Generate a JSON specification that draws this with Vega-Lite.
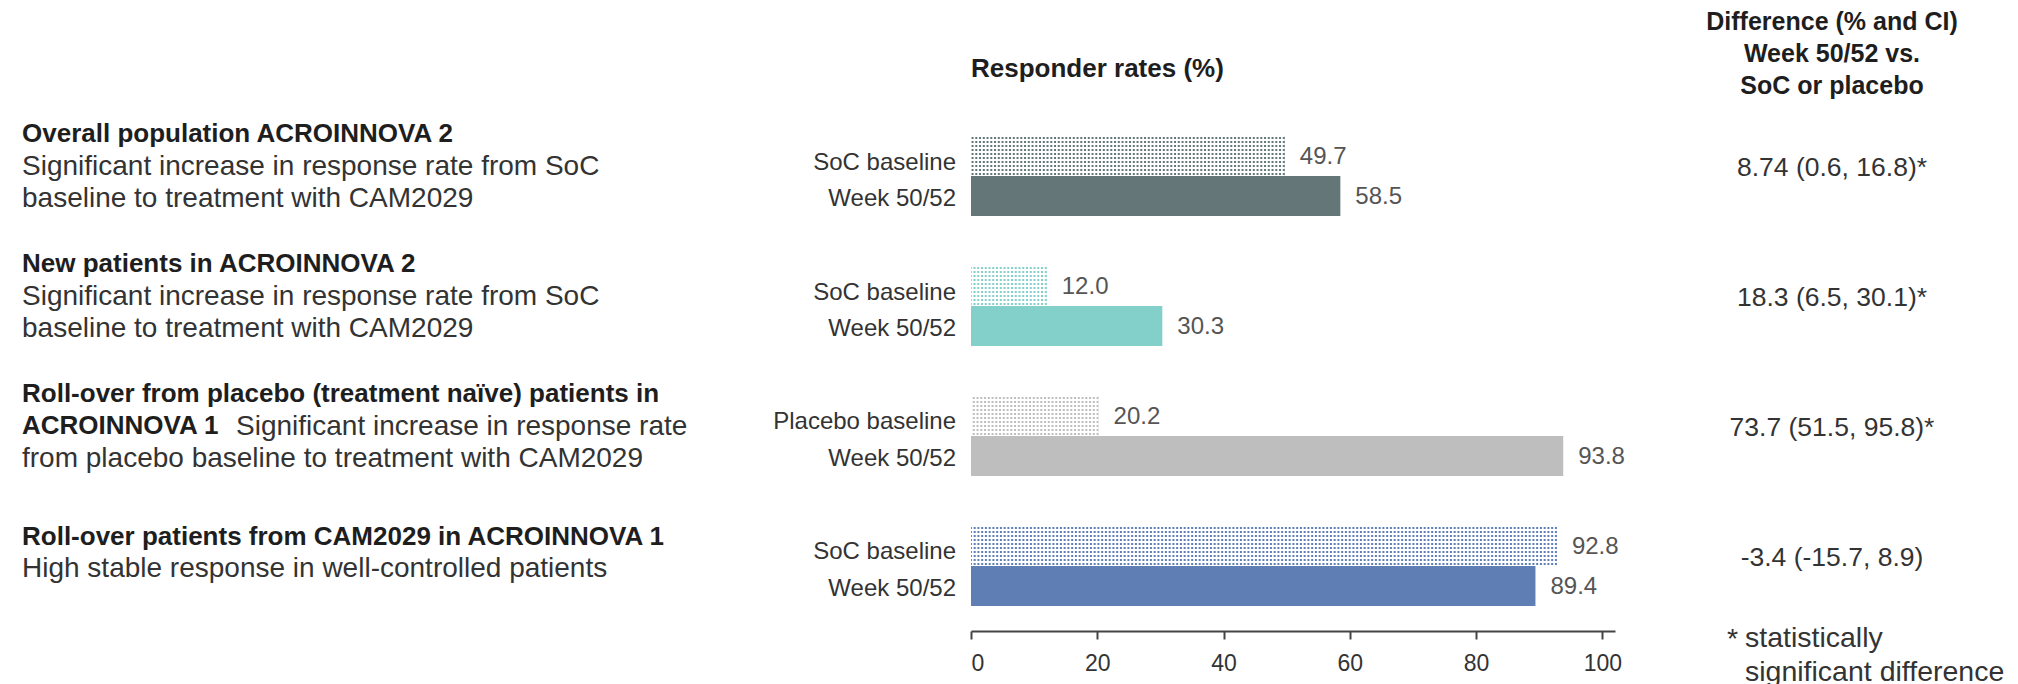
{
  "$schema": "https://vega.github.io/schema/vega-lite/v6.json",
  "background": "white",
  "padding": {"left": 22, "top": 10, "right": 0, "bottom": 0},
  "autosize": {"type": "pad"},
  "bounds": "flush",
  "spacing": 40,
  "config": {
    "font": "Liberation Sans",
    "view": {"stroke": null}
  },
  "datasets": {
    "bars": [
      {"group": "g1", "series": "baseline", "label": "SoC baseline", "value": 49.7},
      {"group": "g1", "series": "week", "label": "Week 50/52", "value": 58.5},
      {"group": "g2", "series": "baseline", "label": "SoC baseline", "value": 12.0},
      {"group": "g2", "series": "week", "label": "Week 50/52", "value": 30.3},
      {"group": "g3", "series": "baseline", "label": "Placebo baseline", "value": 20.2},
      {"group": "g3", "series": "week", "label": "Week 50/52", "value": 93.8},
      {"group": "g4", "series": "baseline", "label": "SoC baseline", "value": 92.8},
      {"group": "g4", "series": "week", "label": "Week 50/52", "value": 89.4}
    ],
    "lines": [
      {"group": "g1", "slot": "a", "style": "bold", "text": "Overall population ACROINNOVA 2"},
      {"group": "g1", "slot": "c", "style": "regular", "text": "Significant increase in response rate from SoC"},
      {"group": "g1", "slot": "e", "style": "regular", "text": "baseline to treatment with CAM2029"},
      {"group": "g2", "slot": "a", "style": "bold", "text": "New patients in ACROINNOVA 2"},
      {"group": "g2", "slot": "c", "style": "regular", "text": "Significant increase in response rate from SoC"},
      {"group": "g2", "slot": "e", "style": "regular", "text": "baseline to treatment with CAM2029"},
      {"group": "g3", "slot": "a", "style": "bold", "text": "Roll-over from placebo (treatment naïve) patients in"},
      {"group": "g3", "slot": "c", "style": "bold", "text": "ACROINNOVA 1"},
      {"group": "g3", "slot": "c", "style": "inline", "text": "Significant increase in response rate"},
      {"group": "g3", "slot": "e", "style": "regular", "text": "from placebo baseline to treatment with CAM2029"},
      {"group": "g4", "slot": "b", "style": "bold", "text": "Roll-over patients from CAM2029 in ACROINNOVA 1"},
      {"group": "g4", "slot": "d", "style": "regular", "text": "High stable response in well-controlled patients"}
    ],
    "groups": [
      {"group": "g1", "diff": "8.74 (0.6, 16.8)*"},
      {"group": "g2", "diff": "18.3 (6.5, 30.1)*"},
      {"group": "g3", "diff": "73.7 (51.5, 95.8)*"},
      {"group": "g4", "diff": "-3.4 (-15.7, 8.9)"}
    ],
    "notes": [
      {"star": "*", "note": "statistically\nsignificant difference"}
    ]
  },
  "hconcat": [
    {
      "width": 909,
      "height": 520,
      "data": {"name": "lines"},
      "layer": [
        {
          "transform": [{"filter": "datum.style === 'bold' && datum.slot === 'a'"}],
          "mark": {"type": "text", "align": "left", "baseline": "middle", "fontSize": 26, "fontWeight": "bold", "color": "#1e1e1e", "dy": -41.7},
          "encoding": {
            "y": {"field": "group", "type": "nominal", "scale": {"domain": ["g1", "g2", "g3", "g4"], "paddingInner": 0.384615, "paddingOuter": 0.192308}, "axis": null},
            "x": {"datum": 0, "type": "quantitative", "scale": {"domain": [0, 1]}, "axis": null},
            "text": {"field": "text", "type": "nominal"}
          }
        },
        {
          "transform": [{"filter": "datum.style === 'bold' && datum.slot === 'b'"}],
          "mark": {"type": "text", "align": "left", "baseline": "middle", "fontSize": 26, "fontWeight": "bold", "color": "#1e1e1e", "dy": -29.2},
          "encoding": {
            "y": {"field": "group", "type": "nominal"},
            "x": {"datum": 0, "type": "quantitative"},
            "text": {"field": "text", "type": "nominal"}
          }
        },
        {
          "transform": [{"filter": "datum.style === 'bold' && datum.slot === 'c'"}],
          "mark": {"type": "text", "align": "left", "baseline": "middle", "fontSize": 26, "fontWeight": "bold", "color": "#1e1e1e", "dy": -9.7},
          "encoding": {
            "y": {"field": "group", "type": "nominal"},
            "x": {"datum": 0, "type": "quantitative"},
            "text": {"field": "text", "type": "nominal"}
          }
        },
        {
          "transform": [{"filter": "datum.style === 'regular' && datum.slot === 'c'"}],
          "mark": {"type": "text", "align": "left", "baseline": "middle", "fontSize": 28, "color": "#333333", "dy": -9},
          "encoding": {
            "y": {"field": "group", "type": "nominal"},
            "x": {"datum": 0, "type": "quantitative"},
            "text": {"field": "text", "type": "nominal"}
          }
        },
        {
          "transform": [{"filter": "datum.style === 'inline'"}],
          "mark": {"type": "text", "align": "left", "baseline": "middle", "fontSize": 28, "color": "#333333", "dy": -9, "dx": 214},
          "encoding": {
            "y": {"field": "group", "type": "nominal"},
            "x": {"datum": 0, "type": "quantitative"},
            "text": {"field": "text", "type": "nominal"}
          }
        },
        {
          "transform": [{"filter": "datum.style === 'regular' && datum.slot === 'd'"}],
          "mark": {"type": "text", "align": "left", "baseline": "middle", "fontSize": 28, "color": "#333333", "dy": 2.5},
          "encoding": {
            "y": {"field": "group", "type": "nominal"},
            "x": {"datum": 0, "type": "quantitative"},
            "text": {"field": "text", "type": "nominal"}
          }
        },
        {
          "transform": [{"filter": "datum.style === 'regular' && datum.slot === 'e'"}],
          "mark": {"type": "text", "align": "left", "baseline": "middle", "fontSize": 28, "color": "#333333", "dy": 23},
          "encoding": {
            "y": {"field": "group", "type": "nominal"},
            "x": {"datum": 0, "type": "quantitative"},
            "text": {"field": "text", "type": "nominal"}
          }
        }
      ]
    },
    {
      "width": 644,
      "height": 520,
      "data": {"name": "bars"},
      "title": {"text": "Responder rates (%)", "anchor": "start", "frame": "group", "fontSize": 26, "fontWeight": "bold", "color": "#1e1e1e", "offset": 29},
      "layer": [
        {
          "transform": [{"filter": "datum.series === 'week'"}],
          "mark": {"type": "bar"},
          "encoding": {
            "y": {"field": "group", "type": "nominal", "scale": {"domain": ["g1", "g2", "g3", "g4"], "paddingInner": 0.384615, "paddingOuter": 0.192308}, "axis": null},
            "x": {"field": "value", "type": "quantitative", "scale": {"domain": [0, 102], "nice": false, "zero": true},
              "axis": {"values": [0, 20, 40, 60, 80, 100], "title": null, "grid": false, "domainColor": "#444444", "domainWidth": 2, "tickColor": "#444444", "tickWidth": 2, "tickSize": 8, "labelFontSize": 23, "labelColor": "#333333", "labelPadding": 13}},
            "yOffset": {"field": "series", "type": "nominal", "scale": {"domain": ["baseline", "week"], "paddingInner": 0, "paddingOuter": 0}},
            "color": {"field": "group", "type": "nominal", "scale": {"domain": ["g1", "g2", "g3", "g4"], "range": ["#657679", "#83cfca", "#bebebe", "#5f7eb3"]}, "legend": null}
          }
        },
        {
          "transform": [{"filter": "datum.series === 'baseline'"}],
          "mark": {"type": "rule", "strokeWidth": 40, "strokeDash": [2, 1.75], "strokeCap": "butt"},
          "encoding": {
            "x": {"field": "value", "type": "quantitative"},
            "x2": {"datum": 0},
            "y": {"field": "group", "type": "nominal", "bandPosition": 0.25},
            "color": {"field": "group", "type": "nominal", "legend": null}
          }
        },
        {
          "transform": [{"filter": "datum.series === 'baseline'"}],
          "mark": {"type": "bar", "fill": {"gradient": "linear", "x1": 0, "y1": 0, "x2": 0, "y2": 1, "stops": [
            {"offset": 0, "color": "#ffffff"},
            {"offset": 0.025, "color": "#ffffff"}, {"offset": 0.025, "color": "rgba(255,255,255,0)"}, {"offset": 0.075, "color": "rgba(255,255,255,0)"}, {"offset": 0.075, "color": "#ffffff"},
            {"offset": 0.125, "color": "#ffffff"}, {"offset": 0.125, "color": "rgba(255,255,255,0)"}, {"offset": 0.175, "color": "rgba(255,255,255,0)"}, {"offset": 0.175, "color": "#ffffff"},
            {"offset": 0.225, "color": "#ffffff"}, {"offset": 0.225, "color": "rgba(255,255,255,0)"}, {"offset": 0.275, "color": "rgba(255,255,255,0)"}, {"offset": 0.275, "color": "#ffffff"},
            {"offset": 0.325, "color": "#ffffff"}, {"offset": 0.325, "color": "rgba(255,255,255,0)"}, {"offset": 0.375, "color": "rgba(255,255,255,0)"}, {"offset": 0.375, "color": "#ffffff"},
            {"offset": 0.425, "color": "#ffffff"}, {"offset": 0.425, "color": "rgba(255,255,255,0)"}, {"offset": 0.475, "color": "rgba(255,255,255,0)"}, {"offset": 0.475, "color": "#ffffff"},
            {"offset": 0.525, "color": "#ffffff"}, {"offset": 0.525, "color": "rgba(255,255,255,0)"}, {"offset": 0.575, "color": "rgba(255,255,255,0)"}, {"offset": 0.575, "color": "#ffffff"},
            {"offset": 0.625, "color": "#ffffff"}, {"offset": 0.625, "color": "rgba(255,255,255,0)"}, {"offset": 0.675, "color": "rgba(255,255,255,0)"}, {"offset": 0.675, "color": "#ffffff"},
            {"offset": 0.725, "color": "#ffffff"}, {"offset": 0.725, "color": "rgba(255,255,255,0)"}, {"offset": 0.775, "color": "rgba(255,255,255,0)"}, {"offset": 0.775, "color": "#ffffff"},
            {"offset": 0.825, "color": "#ffffff"}, {"offset": 0.825, "color": "rgba(255,255,255,0)"}, {"offset": 0.875, "color": "rgba(255,255,255,0)"}, {"offset": 0.875, "color": "#ffffff"},
            {"offset": 0.925, "color": "#ffffff"}, {"offset": 0.925, "color": "rgba(255,255,255,0)"}, {"offset": 0.975, "color": "rgba(255,255,255,0)"}, {"offset": 0.975, "color": "#ffffff"},
            {"offset": 1, "color": "#ffffff"}
          ]}},
          "encoding": {
            "x": {"field": "value", "type": "quantitative"},
            "y": {"field": "group", "type": "nominal"},
            "yOffset": {"field": "series", "type": "nominal"}
          }
        },
        {
          "mark": {"type": "text", "align": "left", "baseline": "middle", "dx": 15, "dy": 1, "fontSize": 24, "color": "#555555"},
          "encoding": {
            "x": {"field": "value", "type": "quantitative"},
            "y": {"field": "group", "type": "nominal"},
            "yOffset": {"field": "series", "type": "nominal"},
            "text": {"field": "value", "type": "quantitative", "format": ".1f"}
          }
        },
        {
          "transform": [{"filter": "datum.series === 'baseline'"}],
          "mark": {"type": "text", "align": "right", "baseline": "middle", "dx": -15, "dy": 6.5, "fontSize": 24, "color": "#333333"},
          "encoding": {
            "x": {"datum": 0, "type": "quantitative"},
            "y": {"field": "group", "type": "nominal"},
            "yOffset": {"field": "series", "type": "nominal"},
            "text": {"field": "label", "type": "nominal"}
          }
        },
        {
          "transform": [{"filter": "datum.series === 'week'"}],
          "mark": {"type": "text", "align": "right", "baseline": "middle", "dx": -15, "dy": 2.5, "fontSize": 24, "color": "#333333"},
          "encoding": {
            "x": {"datum": 0, "type": "quantitative"},
            "y": {"field": "group", "type": "nominal"},
            "yOffset": {"field": "series", "type": "nominal"},
            "text": {"field": "label", "type": "nominal"}
          }
        }
      ]
    },
    {
      "width": 354,
      "height": 520,
      "title": {"text": ["Difference (% and CI)", "Week 50/52 vs.", "SoC or placebo"], "anchor": "middle", "frame": "group", "fontSize": 25, "fontWeight": "bold", "lineHeight": 32, "color": "#1e1e1e", "offset": 12},
      "layer": [
        {
          "data": {"name": "groups"},
          "mark": {"type": "text", "align": "center", "baseline": "middle", "fontSize": 26.5, "color": "#333333", "dy": -8.5},
          "encoding": {
            "y": {"field": "group", "type": "nominal", "scale": {"domain": ["g1", "g2", "g3", "g4"], "paddingInner": 0.384615, "paddingOuter": 0.192308}, "axis": null},
            "text": {"field": "diff", "type": "nominal"}
          }
        },
        {
          "data": {"name": "notes"},
          "mark": {"type": "text", "align": "left", "baseline": "middle", "fontSize": 28.5, "color": "#333333", "dx": -105, "dy": 268},
          "encoding": {"text": {"field": "star", "type": "nominal"}}
        },
        {
          "data": {"name": "notes"},
          "mark": {"type": "text", "align": "left", "baseline": "middle", "lineBreak": "\n", "lineHeight": 34, "fontSize": 28.5, "color": "#333333", "dx": -87, "dy": 267},
          "encoding": {"text": {"field": "note", "type": "nominal"}}
        }
      ]
    }
  ]
}
